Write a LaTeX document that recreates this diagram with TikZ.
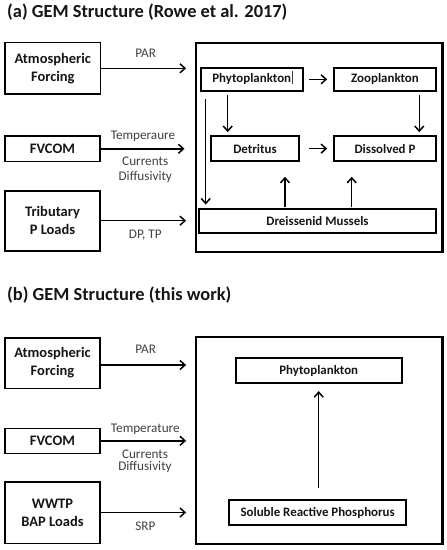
\documentclass[tikz,border=0pt]{standalone}
\usepackage{fontspec}
\setmainfont{Carlito}
\usetikzlibrary{arrows.meta}
\definecolor{lblgray}{HTML}{404040}
\definecolor{boxtxt}{HTML}{151515}
\begin{document}
\begin{tikzpicture}[x=1pt,y=-1pt,
  outbox/.style={draw, line width=1.6pt, inner sep=0pt, align=center, text=boxtxt,
    font=\bfseries\fontsize{14.5}{18}\selectfont},
  inbox/.style={draw, line width=2.2pt, inner sep=0pt, align=center, text=boxtxt,
    font=\bfseries\fontsize{12.9}{15}\selectfont},
  bigbox/.style={draw, line width=2.4pt, inner sep=0pt},
  arr/.style={line width=1.5pt, -{Straight Barb[length=5pt,width=9pt,line width=1.5pt]}},
  lbl/.style={text=lblgray, inner sep=0pt, font=\fontsize{13.2}{15}\selectfont},
  ttl/.style={anchor=base west, inner sep=0pt, text=boxtxt, font=\bfseries\fontsize{18.4}{21}\selectfont}]
\useasboundingbox (0,0) rectangle (447,550);

% ---------- (a) ----------
\node[ttl] (ta) at (7,17.6) {(a) GEM Structure (Rowe et al. 2017)};

\node[outbox, minimum width=95.5pt, minimum height=51.3pt] (atmA) at (52.8,68.3) {Atmospheric\\Forcing};
\node[outbox, minimum width=95pt, minimum height=25.7pt] (fvA) at (52.5,148.8) {FVCOM};
\node[outbox, minimum width=95pt, minimum height=60pt] (trib) at (52.5,220.7) {Tributary\\P Loads};

\node[bigbox, minimum width=246.6pt, minimum height=209pt] (bigA) at (319,147.2) {};

\node[inbox, minimum width=102pt, minimum height=23.3pt] (phyA) at (251.7,79.3) {Phytoplankton};
\node[inbox, minimum width=101.4pt, minimum height=23.3pt] (zoo) at (385,79.3) {Zooplankton};
\node[inbox, minimum width=88pt, minimum height=25.3pt] (det) at (255,148.6) {Detritus};
\node[inbox, minimum width=101.4pt, minimum height=25.3pt] (dis) at (385,148.6) {Dissolved P};
\node[inbox, minimum width=236.4pt, minimum height=24.3pt] (mus) at (317.5,221.1) {Dreissenid Mussels};

% cursor mark inside Phytoplankton box
\draw[line width=0.6pt, lblgray] ([xshift=40.6pt,yshift=-4.3pt]phyA.center) -- ([xshift=40.6pt,yshift=8pt]phyA.center);

\draw[arr] (atmA.east) -- ([xshift=-8.4pt]bigA.west |- atmA.east);
\draw[arr] (fvA.east) -- ([xshift=-10pt]bigA.west |- fvA.east);
\draw[arr] (trib.east) -- ([xshift=-8.4pt]bigA.west |- trib.east);

\node[lbl] (parA) at (145.7,53) {PAR};
\node[lbl] (tempA) at (143,136.7) {Temperaure};
\node[lbl] (curA) at (145.2,161.7) {Currents};
\node[lbl] (difA) at (145.3,176.7) {Diffusivity};
\node[lbl] (dptp) at (145.3,235) {DP, TP};

\draw[arr, shorten <=5.6pt, shorten >=6pt] (phyA.east) -- (zoo.west |- phyA.east);
\draw[arr, shorten <=9.3pt, shorten >=6pt] (det.east) -- (dis.west |- det.east);
\draw[arr, shorten <=3.3pt, shorten >=2.7pt] ([xshift=-24pt]phyA.south) -- ([xshift=-24pt]phyA.south |- det.north);
\draw[arr, shorten <=3.3pt, shorten >=2.7pt] ([xshift=34.3pt]zoo.south) -- ([xshift=34.3pt]zoo.south |- dis.north);
\draw[arr, shorten <=7.3pt, shorten >=3.3pt] ([xshift=-46pt]phyA.south) -- ([xshift=-46pt]phyA.south |- mus.north);
\draw[arr, shorten <=0.7pt, shorten >=14.4pt] ([xshift=30pt]det.south |- mus.north) -- ([xshift=30pt]det.south);
\draw[arr, shorten <=0.7pt, shorten >=14.4pt] ([xshift=-33.3pt]dis.south |- mus.north) -- ([xshift=-33.3pt]dis.south);

% ---------- (b) ----------
\node[ttl] (tb) at (7,300.7) {(b) GEM Structure (this work)};

\node[outbox, minimum width=95pt, minimum height=50.6pt] (atmB) at (52.5,363) {Atmospheric\\Forcing};
\node[outbox, minimum width=95pt, minimum height=25pt] (fvB) at (52.5,440.8) {FVCOM};
\node[outbox, minimum width=95pt, minimum height=61.6pt] (wwtp) at (52.5,512.5) {WWTP\\BAP Loads};

\node[bigbox, minimum width=246.6pt, minimum height=207.3pt] (bigB) at (319,440.35) {};

\node[inbox, minimum width=166pt, minimum height=25pt] (phyB) at (318.7,370.8) {Phytoplankton};
\node[inbox, minimum width=176.7pt, minimum height=25pt] (srp) at (317.65,512.5) {Soluble Reactive Phosphorus};

\draw[arr] ([yshift=-2pt]atmB.east) -- ([xshift=-8.4pt,yshift=-2pt]bigB.west |- atmB.east);
\draw[arr] (fvB.east) -- ([xshift=-8.4pt]bigB.west |- fvB.east);
\draw[arr] (wwtp.east) -- ([xshift=-8.4pt]bigB.west |- wwtp.east);

\node[lbl] (parB) at (145.7,349) {PAR};
\node[lbl] (tempB) at (145.3,429) {Temperature};
\node[lbl] (curB) at (145,454) {Currents};
\node[lbl] (difB) at (145,467.3) {Diffusivity};
\node[lbl] (srpl) at (145.3,526.7) {SRP};

\draw[arr, shorten <=11pt, shorten >=6.7pt] (srp.north -| phyB.south) -- (phyB.south);
\end{tikzpicture}
\end{document}
